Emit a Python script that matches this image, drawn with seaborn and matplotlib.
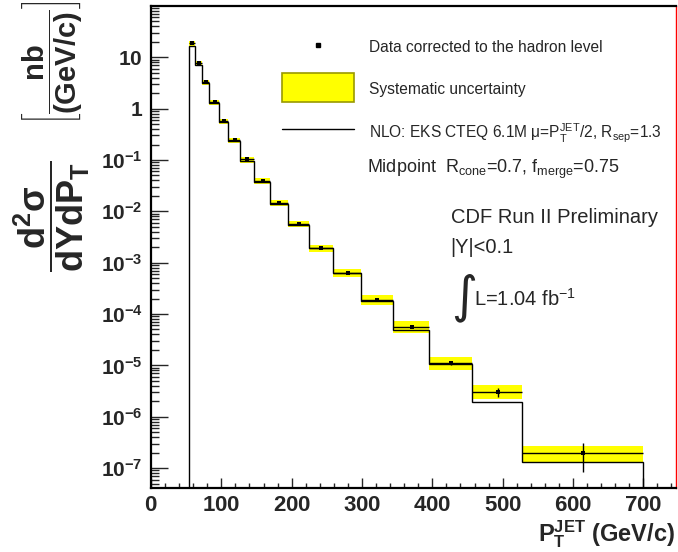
import numpy as np
import matplotlib
matplotlib.use("Agg")
import matplotlib.pyplot as plt
from matplotlib.lines import Line2D
from matplotlib.patches import Rectangle
from matplotlib.ticker import (MultipleLocator, FixedLocator, LogLocator,
                               FuncFormatter, NullFormatter)
import seaborn as sns

# Inclusive jet cross section, |Y|<0.1, bin edges in GeV/c
bin_edges = [54, 62, 72, 83, 96, 110, 127, 146, 169, 195, 224, 259, 298, 344,
             396, 457, 527, 700]
# measured points (nb/(GeV/c)) and their pT positions
data_pt = [59, 68, 78.7, 90.5, 104, 119.4, 137, 158.8, 182.4, 210, 242, 279.6,
           321, 371, 427, 493, 614]
data_xs = [18.6, 7.9, 3.37, 1.37, 0.586, 0.25, 0.103, 0.0396, 0.0148, 0.00567,
           0.00196, 6.38e-4, 1.87e-4, 5.58e-5, 1.09e-5, 3.05e-6, 1.95e-7]
# relative statistical errors
stat_rel = [0.01, 0.01, 0.01, 0.01, 0.01, 0.01, 0.01, 0.01, 0.01, 0.01,
            0.01, 0.01, 0.02, 0.03, 0.07, 0.21, 0.57]
# relative systematic uncertainties (up / down)
sys_up_rel = [0.09, 0.09, 0.09, 0.09, 0.09, 0.09, 0.10, 0.11, 0.11, 0.16,
              0.14, 0.18, 0.25, 0.31, 0.31, 0.37, 0.39]
sys_dn_rel = [0.16, 0.16, 0.16, 0.16, 0.16, 0.16, 0.16, 0.15, 0.15, 0.14,
              0.16, 0.16, 0.20, 0.23, 0.25, 0.27, 0.36]
# NLO pQCD prediction per bin
nlo_xs = [16.5, 7.2, 3.1, 1.28, 0.55, 0.235, 0.097, 0.038, 0.0142, 0.0055,
          0.0019, 6.2e-4, 1.8e-4, 4.9e-5, 1.05e-5, 1.93e-6, 1.32e-7]

# decades labelled on the y axis
y_decades = [-7, -6, -5, -4, -3, -2, -1, 0, 1]

legend_labels = ["Data corrected to the hadron level",
                 "Systematic uncertainty",
                 r"NLO: EKS CTEQ 6.1M $\mu$=P$_{T}^{JET}$/2, R$_{sep}$=1.3"]

sns.set_style("ticks")
plt.rcParams["font.family"] = ["Liberation Sans", "DejaVu Sans"]
plt.rcParams["mathtext.fontset"] = "custom"
plt.rcParams["mathtext.rm"] = "Liberation Sans"
plt.rcParams["mathtext.it"] = "Liberation Sans:italic"
plt.rcParams["mathtext.bf"] = "Liberation Sans:bold"
plt.rcParams["mathtext.default"] = "regular"

W, H = 678, 552
fig = plt.figure(figsize=(W / 100, H / 100), dpi=100)


def fx(px):
    return px / W


def fy(py):
    return 1 - py / H


ax = fig.add_axes([fx(151), fy(488), (676 - 151) / W, (488 - 6) / H])
ax.set_yscale("log")
ax.set_xlim(0, 746.5)
ax.set_ylim(4.1e-8, 99.5)

edges = np.array(bin_edges, dtype=float)
lo, hi = edges[:-1], edges[1:]
xs = np.array(data_xs)
pt = np.array(data_pt)

# systematic band as boxes spanning each bin
band_lo = xs * (1 - np.array(sys_dn_rel))
band_hi = xs * (1 + np.array(sys_up_rel))
ax.bar(lo, band_hi - band_lo, bottom=band_lo, width=hi - lo, align="edge",
       color="#ffff00", linewidth=0, zorder=1)

# NLO histogram, closed down to the baseline at both ends
ax.stairs(nlo_xs, edges, baseline=1e-12, color="black", lw=1.0, zorder=2)

# data: bin-width bars and statistical errors
ax.errorbar(pt, xs, xerr=[pt - lo, hi - pt], yerr=xs * np.array(stat_rel),
            fmt="none", ecolor="black", elinewidth=1.0, capsize=0, zorder=3)
sns.scatterplot(x=pt, y=xs, marker="s", s=10, color="black", linewidth=0,
                ax=ax, zorder=4, legend=False)

# axes frame
for side in ["top", "left", "bottom"]:
    ax.spines[side].set_color("black")
    ax.spines[side].set_linewidth(1.6)
ax.spines["right"].set_color("#ff0000")
ax.spines["right"].set_linewidth(1.0)

ax.xaxis.set_major_locator(MultipleLocator(100))
ax.xaxis.set_minor_locator(MultipleLocator(20))
ax.yaxis.set_major_locator(FixedLocator([10.0 ** n for n in y_decades]))
ax.yaxis.set_minor_locator(LogLocator(base=10, subs=np.arange(2, 10), numticks=20))


def ylab(v, pos):
    n = int(round(np.log10(v)))
    if n == 1:
        return r"$\mathbf{10}$"
    if n == 0:
        return r"$\mathbf{1}$"
    return r"$\mathbf{10^{%d}}$" % n


ax.yaxis.set_major_formatter(FuncFormatter(ylab))
ax.yaxis.set_minor_formatter(NullFormatter())
ax.xaxis.set_major_formatter(FuncFormatter(lambda v, p: r"$\mathbf{%d}$" % v))

ax.tick_params(axis="x", which="major", direction="in", length=7.5, width=1.0,
               labelsize=16, pad=5, top=False)
ax.tick_params(axis="x", which="minor", direction="in", length=3.5, width=1.0,
               top=False)
ax.tick_params(axis="y", which="major", direction="in", length=12, width=1.0,
               labelsize=15, pad=6, right=False)
ax.tick_params(axis="y", which="minor", direction="in", length=6, width=1.0,
               right=False)

# axis titles
fig.text(fx(675), fy(541), r"$\mathbf{P_{T}^{JET}\ (GeV/c)}$", fontsize=17,
         ha="right", va="baseline")
fig.text(fx(52), fy(272), r"$\mathbf{\dfrac{d^{2}\sigma}{dYdP_{T}}}$",
         fontsize=26, rotation=90, ha="center", va="bottom")
fig.text(fx(53), fy(0), r"$\mathbf{\left[\dfrac{nb}{(GeV/c)}\right]}$",
         fontsize=21, rotation=90, ha="center", va="top")

# legend entries placed in figure pixels
fig.add_artist(Line2D([fx(318)], [fy(45)], marker="s", markersize=3,
                      color="black", ls="none", transform=fig.transFigure))
fig.add_artist(Rectangle((fx(282), fy(102)), (354 - 282) / W, (102 - 73) / H,
                         facecolor="#ffff00", edgecolor="#999900", lw=1.2,
                         transform=fig.transFigure))
fig.add_artist(Line2D([fx(282), fx(354)], [fy(129), fy(129)], color="black",
                      lw=1.0, transform=fig.transFigure))
for label, yc in zip(legend_labels, [46, 88, 130]):
    fig.text(fx(369.3), fy(yc), label, fontsize=11.2, ha="left",
             va="center_baseline")

fig.text(fx(366.7), fy(173), r"Midpoint  R$_{cone}$=0.7, f$_{merge}$=0.75",
         fontsize=13, ha="left", va="baseline")
fig.text(fx(450.7), fy(223), "CDF Run II Preliminary", fontsize=14.5,
         ha="left", va="baseline")
fig.text(fx(450.7), fy(253), "|Y|<0.1", fontsize=14.5, ha="left",
         va="baseline")
fig.text(fx(451), fy(298), "\u222b", fontsize=36, family="DejaVu Sans",
         ha="left", va="center")
fig.text(fx(474), fy(306), r"L=1.04 fb$^{-1}$", fontsize=14.5, ha="left",
         va="baseline")

fig.savefig("out.png", dpi=100)
